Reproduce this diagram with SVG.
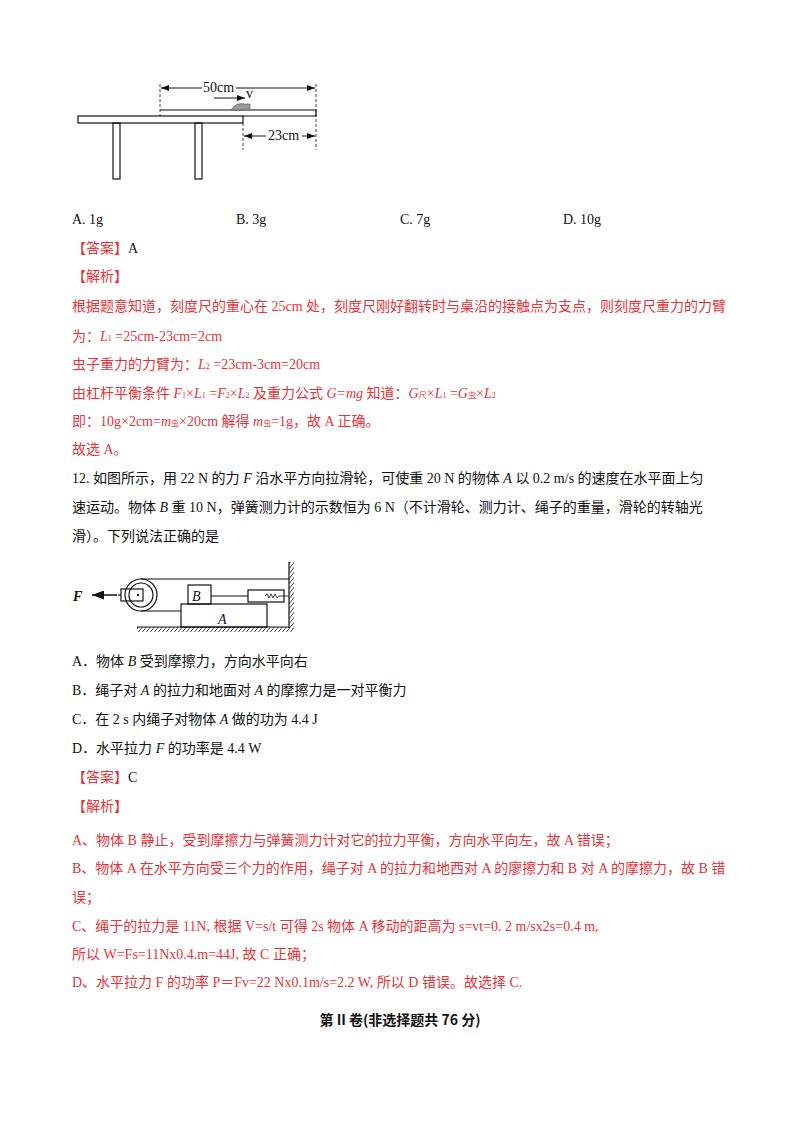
<svg xmlns="http://www.w3.org/2000/svg" width="800" height="1132" viewBox="0 0 800 1132">
<defs>
<style>
text{font-family:"Liberation Serif","Noto Sans CJK SC",serif;font-size:14px;fill:#111}
.r{fill:#e8333a}
.b{font-weight:bold}
.i{font-style:italic}
.ln{stroke:#111;fill:none;stroke-width:1.2}
.d{stroke:#111;stroke-dasharray:3 2;stroke-width:0.8}
</style>
<marker id="ar" markerWidth="8" markerHeight="6" refX="8" refY="3" orient="auto-start-reverse"><path d="M0,0L8,3L0,6z" fill="#111"/></marker>
<pattern id="h" width="4" height="5" patternUnits="userSpaceOnUse"><path d="M0,5L4,0" stroke="#111" stroke-width="0.8"/></pattern>
</defs>
<rect width="800" height="1132" fill="#fff"/>
<g id="fig1">
<rect x="78" y="116" width="165" height="7" class="ln" fill="#fff"/>
<rect x="113" y="123" width="7" height="56" class="ln"/>
<rect x="195" y="123" width="7" height="56" class="ln"/>
<path d="M160,110H316V116H243" class="ln"/>
<path d="M160,84V116M316,84V150M243,123V150" class="d"/>
<line x1="161" y1="88" x2="315" y2="88" stroke="#111" marker-start="url(#ar)" marker-end="url(#ar)"/>
<rect x="202" y="80" width="34" height="14" fill="#fff"/>
<text x="203" y="92">50cm</text>
<line x1="214" y1="98" x2="245" y2="98" stroke="#111" marker-end="url(#ar)"/>
<text x="246" y="98" font-size="10">v</text>
<path d="M231,110Q236,102 245,104L250,104L250,110z" fill="#999" stroke="#555" stroke-width="0.6"/>
<line x1="244" y1="136" x2="315" y2="136" stroke="#111" marker-start="url(#ar)" marker-end="url(#ar)"/>
<rect x="266" y="128" width="36" height="14" fill="#fff"/>
<text x="268" y="140">23cm</text>
</g>
<text x="72" y="224">A.  1g</text>
<text x="236" y="224">B.  3g</text>
<text x="400" y="224">C.  7g</text>
<text x="563" y="224">D.  10g</text>
<text x="72" y="253"><tspan class="r">【答案】</tspan>A</text>
<text x="72" y="281" class="r">【解析】</text>
<text x="72" y="311" class="r">根据题意知道，刻度尺的重心在 25cm 处，刻度尺刚好翻转时与桌沿的接触点为支点，则刻度尺重力的力臂</text>
<text x="72" y="341" class="r">为：<tspan class="i">L</tspan><tspan font-size="8">1</tspan> =25cm-23cm=2cm</text>
<text x="72" y="369" class="r">虫子重力的力臂为：<tspan class="i">L</tspan><tspan font-size="8">2</tspan> =23cm-3cm=20cm</text>
<text x="72" y="398" class="r">由杠杆平衡条件 <tspan class="i">F</tspan><tspan font-size="8">1</tspan>×<tspan class="i">L</tspan><tspan font-size="8">1</tspan> =<tspan class="i">F</tspan><tspan font-size="8">2</tspan>×<tspan class="i">L</tspan><tspan font-size="8">2</tspan> 及重力公式 <tspan class="i">G=mg</tspan> 知道：<tspan class="i">G</tspan><tspan font-size="8">尺</tspan>×<tspan class="i">L</tspan><tspan font-size="8">1</tspan> =<tspan class="i">G</tspan><tspan font-size="8">虫</tspan>×<tspan class="i">L</tspan><tspan font-size="8">2</tspan></text>
<text x="72" y="426" class="r">即：10g×2cm=<tspan class="i">m</tspan><tspan font-size="8">虫</tspan>×20cm 解得 <tspan class="i">m</tspan><tspan font-size="8">虫</tspan>=1g，故 A 正确。</text>
<text x="72" y="454" class="r">故选 A。</text>
<text x="72" y="483">12.  如图所示，用 22 N 的力 <tspan class="i">F</tspan> 沿水平方向拉滑轮，可使重 20 N 的物体 <tspan class="i">A</tspan> 以 0.2 m/s 的速度在水平面上匀</text>
<text x="72" y="512">速运动。物体 <tspan class="i">B</tspan> 重 10 N，弹簧测力计的示数恒为 6 N（不计滑轮、测力计、绳子的重量，滑轮的转轴光</text>
<text x="72" y="541">滑）。下列说法正确的是</text>
<g id="fig2">
<rect x="289" y="562" width="5" height="70" fill="url(#h)"/>
<line x1="289" y1="562" x2="289" y2="628" class="ln"/>
<rect x="137" y="627" width="152" height="5" fill="url(#h)"/>
<line x1="137" y1="627" x2="289" y2="627" class="ln"/>
<circle cx="141" cy="595" r="16" class="ln" stroke-width="2"/>
<circle cx="141" cy="595" r="12" class="ln"/>
<path d="M141,579H289M141,611H181" class="ln"/>
<rect x="121" y="589" width="22" height="12" class="ln" fill="#fff"/>
<circle cx="138" cy="595" r="1.2" fill="#111"/>
<path d="M121,595h-3" class="ln"/>
<line x1="117" y1="595" x2="92" y2="595" stroke="#111" stroke-width="1.5" marker-end="url(#ar)"/>
<text x="73" y="601" class="b i" font-size="16">F</text>
<rect x="181" y="604" width="86" height="23" class="ln"/>
<text x="218" y="624" class="i" font-size="17">A</text>
<rect x="188" y="585" width="23" height="19" class="ln"/>
<text x="192" y="601" class="i" font-size="16">B</text>
<path d="M211,596H248" class="ln"/>
<rect x="248" y="590" width="36" height="12" class="ln"/>
<path d="M265,596l2,-2l2,4l2,-4l2,4l2,-4l2,4l2,-2H289" stroke="#111" fill="none" stroke-width="0.8"/>
</g>
<text x="72" y="666">A．物体 <tspan class="i">B</tspan> 受到摩擦力，方向水平向右</text>
<text x="72" y="695">B．绳子对 <tspan class="i">A</tspan> 的拉力和地面对 <tspan class="i">A</tspan> 的摩擦力是一对平衡力</text>
<text x="72" y="724">C．在 2 s 内绳子对物体 <tspan class="i">A</tspan> 做的功为 4.4 J</text>
<text x="72" y="753">D．水平拉力 <tspan class="i">F</tspan> 的功率是 4.4 W</text>
<text x="72" y="782"><tspan class="r">【答案】</tspan>C</text>
<text x="72" y="811" class="r">【解析】</text>
<text x="72" y="845" class="r">A、物体 B 静止，受到摩擦力与弹簧测力计对它的拉力平衡，方向水平向左，故 A 错误；</text>
<text x="72" y="873" class="r">B、物体 A 在水平方向受三个力的作用，绳子对 A 的拉力和地西对 A 的廖擦力和 B 对 A 的摩擦力，故 B 错</text>
<text x="72" y="902" class="r">误；</text>
<text x="72" y="931" class="r">C、绳于的拉力是 11N, 根据 V=s/t 可得 2s 物体 A 移动的距高为 s=vt=0. 2 m/sx2s=0.4 m,</text>
<text x="72" y="959" class="r">所以 W=Fs=11Nx0.4.m=44J, 故 C 正确；</text>
<text x="72" y="987" class="r">D、水平拉力 F 的功率 P＝Fv=22 Nx0.1m/s=2.2 W, 所以 D 错误。故选择 C.</text>
<text x="400" y="1025" text-anchor="middle" class="b" style="font-family:'Noto Sans CJK SC',sans-serif">第 II 卷(非选择题共 76 分)</text>
</svg>
